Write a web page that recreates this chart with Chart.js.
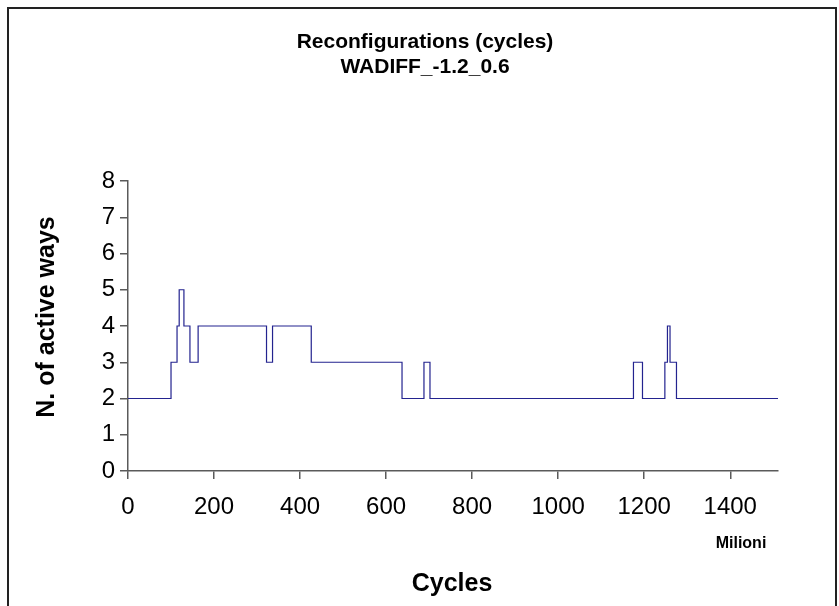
<!DOCTYPE html>
<html>
<head>
<meta charset="utf-8">
<script src="https://cdn.jsdelivr.net/npm/chart.js@4/dist/chart.umd.min.js"></script>
<style>
    html, body { margin: 0; padding: 0; background: #fff; }
    #grafico { display: block; }
</style>
</head>
<body>
<canvas id="grafico" width="839" height="606"></canvas>
<script>
// momenti (milioni di cicli) in cui cambia il numero di vie attive
const cicli = [0, 100, 114, 119, 130, 144, 163, 322, 336, 426, 637, 688, 702, 1175, 1196, 1248, 1254, 1260, 1275, 1511]
const vieAttive = [2, 3, 4, 5, 4, 3, 4, 3, 4, 3, 2, 3, 2, 3, 2, 3, 4, 3, 2, 2]
const ticksX = [0, 200, 400, 600, 800, 1000, 1200, 1400]
const titolo = ['Reconfigurations (cycles)', 'WADIFF_-1.2_0.6']
const titoloX = 'Cycles'
const titoloY = 'N. of active ways'
const unita = 'Milioni'

let punti = []
for (let i = 0; i < cicli.length; i++) {
    punti.push({ x: cicli[i], y: vieAttive[i] })
}

const coloreAssi = '#5a5a5a'

// testi fissi e cornice esterna
const testi = {
    id: 'testi',
    afterDraw(chart) {
        const ctx = chart.ctx
        ctx.save()
        ctx.strokeStyle = '#222'
        ctx.lineWidth = 2
        ctx.strokeRect(8, 8, 828, 640)

        ctx.fillStyle = '#000'
        ctx.textAlign = 'center'
        ctx.textBaseline = 'middle'
        ctx.font = 'bold 21px "Liberation Sans", Arial, sans-serif'
        ctx.fillText(titolo[0], 425, 42)
        ctx.fillText(titolo[1], 425, 67)

        ctx.font = 'bold 25px "Liberation Sans", Arial, sans-serif'
        ctx.fillText(titoloX, 452, 584)

        ctx.font = 'bold 16px "Liberation Sans", Arial, sans-serif'
        ctx.fillText(unita, 741, 544)

        ctx.translate(47, 317)
        ctx.rotate(-Math.PI / 2)
        ctx.font = 'bold 25px "Liberation Sans", Arial, sans-serif'
        ctx.fillText(titoloY, 0, 0)
        ctx.restore()
    }
}

const grafico = new Chart(document.getElementById('grafico'), {
    type: 'scatter',
    data: {
        datasets: [{
            label: 'vie attive',
            data: punti,
            showLine: true,
            stepped: true,
            borderColor: '#23238f',
            borderWidth: 1.2,
            pointRadius: 0,
            fill: false
        }]
    },
    options: {
        responsive: false,
        animation: false,
        devicePixelRatio: 1,
        layout: { padding: { left: 0, right: 61, top: 181, bottom: 0 } },
        plugins: {
            legend: { display: false },
            title: { display: false },
            tooltip: { enabled: false }
        },
        scales: {
            x: {
                type: 'linear',
                min: 0,
                max: 1511,
                afterBuildTicks: (scala) => {
                    scala.ticks = ticksX.map(v => ({ value: v }))
                },
                afterFit: (scala) => { scala.height = 135 },
                border: { display: true, color: coloreAssi, width: 1.5 },
                grid: { display: true, drawOnChartArea: false, drawTicks: true, tickLength: 8, color: coloreAssi, lineWidth: 1.5 },
                ticks: {
                    color: '#000',
                    padding: 14,
                    maxRotation: 0,
                    autoSkip: false,
                    callback: (valore) => String(valore),
                    font: { family: '"Liberation Sans", Arial, sans-serif', size: 24 }
                }
            },
            y: {
                min: 0,
                max: 8,
                afterFit: (scala) => { scala.width = 128 },
                border: { display: true, color: coloreAssi, width: 1.5 },
                grid: { display: true, drawOnChartArea: false, drawTicks: true, tickLength: 8, color: coloreAssi, lineWidth: 1.5 },
                ticks: {
                    stepSize: 1,
                    color: '#000',
                    padding: 5,
                    callback: (valore) => String(valore),
                    font: { family: '"Liberation Sans", Arial, sans-serif', size: 24 }
                }
            }
        }
    },
    plugins: [testi]
})
</script>
</body>
</html>
